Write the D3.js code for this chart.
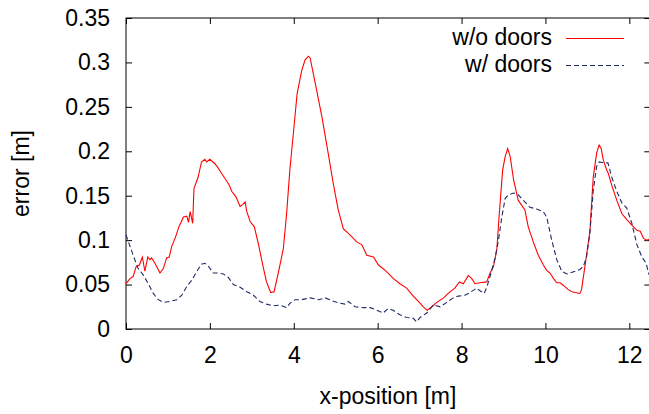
<!DOCTYPE html>
<html>
<head>
<meta charset="utf-8">
<script src="https://cdn.jsdelivr.net/npm/d3@7"></script>
<style>
  body { margin: 0; background: #fff; }
  text { font-family: "Liberation Sans", Arial, sans-serif; }
</style>
</head>
<body>
<div id="chart"></div>
<script>
// x positions [m] and error [m]
const noDoorsX = [0.00, 0.10, 0.17, 0.24, 0.32, 0.39, 0.45, 0.52, 0.57, 0.61, 0.69, 0.81, 0.89, 0.97, 1.03,
  1.09, 1.17, 1.27, 1.37, 1.45, 1.49, 1.53, 1.59, 1.62, 1.72, 1.80, 1.88, 1.92, 2.00, 2.12, 2.20, 2.28,
  2.38, 2.46, 2.52, 2.62, 2.72, 2.78, 2.84, 2.88, 2.96, 3.06, 3.16, 3.27, 3.35, 3.45, 3.53, 3.63, 3.75,
  3.83, 3.87, 3.91, 3.99, 4.08, 4.19, 4.27, 4.35, 4.39, 4.51, 4.67, 4.82, 4.94, 5.06, 5.18, 5.34, 5.50,
  5.62, 5.74, 5.90, 6.02, 6.18, 6.37, 6.53, 6.69, 6.85, 7.01, 7.09, 7.18, 7.29, 7.41, 7.57, 7.73, 7.84,
  7.95, 8.04, 8.16, 8.24, 8.32, 8.44, 8.60, 8.68, 8.76, 8.84, 8.90, 8.98, 9.04, 9.10, 9.16, 9.24, 9.35,
  9.51, 9.59, 9.71, 9.83, 9.95, 10.03, 10.11, 10.19, 10.27, 10.35, 10.43, 10.55, 10.63, 10.71, 10.82,
  10.86, 10.94, 11.06, 11.14, 11.22, 11.28, 11.33, 11.38, 11.46, 11.50, 11.58, 11.70, 11.82, 11.94,
  12.06, 12.18, 12.26, 12.34, 12.42, 12.47];
const noDoorsErr = [0.051, 0.057, 0.059, 0.070, 0.072, 0.081, 0.065, 0.081, 0.078, 0.080, 0.074, 0.063,
  0.068, 0.080, 0.081, 0.093, 0.102, 0.116, 0.126, 0.127, 0.120, 0.132, 0.119, 0.158, 0.171, 0.188, 0.191,
  0.188, 0.191, 0.186, 0.181, 0.175, 0.168, 0.162, 0.155, 0.149, 0.138, 0.140, 0.143, 0.132, 0.121, 0.115,
  0.095, 0.070, 0.053, 0.041, 0.042, 0.063, 0.090, 0.130, 0.156, 0.181, 0.220, 0.265, 0.291, 0.303, 0.307,
  0.305, 0.277, 0.239, 0.198, 0.164, 0.134, 0.113, 0.106, 0.098, 0.095, 0.083, 0.081, 0.072, 0.066, 0.057,
  0.051, 0.046, 0.037, 0.029, 0.025, 0.021, 0.025, 0.030, 0.035, 0.042, 0.046, 0.053, 0.051, 0.060, 0.057,
  0.051, 0.052, 0.053, 0.063, 0.070, 0.089, 0.130, 0.179, 0.194, 0.203, 0.194, 0.168, 0.145, 0.134, 0.115,
  0.098, 0.083, 0.072, 0.066, 0.063, 0.057, 0.052, 0.052, 0.049, 0.044, 0.042, 0.041, 0.040, 0.044, 0.070,
  0.110, 0.171, 0.198, 0.207, 0.203, 0.190, 0.179, 0.175, 0.162, 0.145, 0.130, 0.123, 0.117, 0.111, 0.110,
  0.102, 0.100, 0.101];

const doorsX = [0.00, 0.06, 0.17, 0.29, 0.41, 0.53, 0.65, 0.77, 0.89, 1.05, 1.21, 1.33, 1.45, 1.57, 1.69,
  1.80, 1.88, 1.96, 2.08, 2.20, 2.32, 2.44, 2.56, 2.72, 2.88, 3.04, 3.19, 3.35, 3.51, 3.67, 3.83, 3.91,
  4.03, 4.19, 4.39, 4.59, 4.75, 4.90, 5.10, 5.22, 5.30, 5.46, 5.66, 5.82, 5.94, 6.13, 6.25, 6.37, 6.53,
  6.69, 6.85, 6.93, 7.01, 7.17, 7.33, 7.49, 7.65, 7.80, 7.92, 8.08, 8.20, 8.36, 8.44, 8.54, 8.61, 8.72,
  8.80, 8.88, 8.96, 9.04, 9.12, 9.24, 9.35, 9.47, 9.63, 9.79, 9.95, 10.03, 10.15, 10.27, 10.39, 10.51,
  10.71, 10.82, 10.90, 10.98, 11.06, 11.14, 11.22, 11.28, 11.38, 11.49, 11.58, 11.70, 11.82, 11.94,
  12.06, 12.18, 12.30, 12.40, 12.47];
const doorsErr = [0.106, 0.098, 0.083, 0.068, 0.061, 0.051, 0.040, 0.033, 0.030, 0.031, 0.033, 0.038,
  0.048, 0.055, 0.065, 0.073, 0.074, 0.071, 0.063, 0.063, 0.062, 0.058, 0.050, 0.047, 0.042, 0.038, 0.031,
  0.028, 0.026, 0.027, 0.024, 0.029, 0.033, 0.033, 0.035, 0.033, 0.035, 0.032, 0.029, 0.028, 0.031, 0.025,
  0.024, 0.024, 0.022, 0.018, 0.023, 0.021, 0.016, 0.013, 0.012, 0.008, 0.013, 0.018, 0.027, 0.025, 0.030,
  0.035, 0.037, 0.038, 0.041, 0.046, 0.043, 0.040, 0.048, 0.066, 0.080, 0.100, 0.126, 0.147, 0.151, 0.153,
  0.151, 0.145, 0.137, 0.135, 0.132, 0.126, 0.100, 0.078, 0.065, 0.062, 0.065, 0.067, 0.070, 0.081, 0.108,
  0.156, 0.183, 0.188, 0.187, 0.187, 0.171, 0.155, 0.142, 0.136, 0.119, 0.095, 0.081, 0.074, 0.061];

const xTicks = [0, 2, 4, 6, 8, 10, 12];
const yTicks = [0, 0.05, 0.1, 0.15, 0.2, 0.25, 0.3, 0.35];
const seriesNames = ["w/o doors", "w/ doors"];

const W = 649, H = 414;
const margin = { top: 18, left: 126 };
const width = 524.3, height = 311;

const svg = d3.select("#chart").append("svg")
  .attr("width", W).attr("height", H);

const g = svg.append("g")
  .attr("transform", `translate(${margin.left},${margin.top})`);

const x = d3.scaleLinear().domain([0, 12.5]).range([0, width]);
const y = d3.scaleLinear().domain([0, 0.35]).range([height, 0]);

// axes, gnuplot style: ticks inside on all four sides
const fmt = d => String(+d.toFixed(2));
g.append("g").attr("transform", `translate(0,${height})`)
  .call(d3.axisBottom(x).tickValues(xTicks).tickSize(-6).tickPadding(18).tickFormat(d3.format("d")));
g.append("g")
  .call(d3.axisTop(x).tickValues(xTicks).tickSize(-6).tickFormat(""));
g.append("g")
  .call(d3.axisLeft(y).tickValues(yTicks).tickSize(-6).tickPadding(16).tickFormat(fmt));
g.append("g").attr("transform", `translate(${width},0)`)
  .call(d3.axisRight(y).tickValues(yTicks).tickSize(-6).tickFormat(""));

g.selectAll(".domain").remove();
g.selectAll(".tick line").attr("stroke", "#000");
g.selectAll(".tick text")
  .attr("fill", "#000")
  .style("font-size", "23px")
  .style("font-family", "'Liberation Sans', Arial, sans-serif");

g.append("rect")
  .attr("width", width).attr("height", height)
  .attr("fill", "none").attr("stroke", "#000").attr("stroke-width", 1);

const line = d3.line()
  .x(d => x(d[0]))
  .y(d => y(d[1]));

const series = [
  { name: seriesNames[0], pts: d3.zip(noDoorsX, noDoorsErr), color: "#ff0000", dash: null },
  { name: seriesNames[1], pts: d3.zip(doorsX, doorsErr), color: "#1f2a66", dash: "5,3" }
];

series.forEach(s => {
  g.append("path")
    .datum(s.pts)
    .attr("fill", "none")
    .attr("stroke", s.color)
    .attr("stroke-width", 1.1)
    .attr("stroke-dasharray", s.dash)
    .attr("d", line);
});

// legend, top right
const legend = svg.append("g");
series.forEach((s, i) => {
  const ly = 38.5 + i * 27;
  legend.append("text")
    .attr("x", 552).attr("y", ly + 6)
    .attr("text-anchor", "end")
    .style("font-size", "23px")
    .text(s.name);
  legend.append("line")
    .attr("x1", 566).attr("x2", 624)
    .attr("y1", ly).attr("y2", ly)
    .attr("stroke", s.color)
    .attr("stroke-width", 1.1)
    .attr("stroke-dasharray", s.dash);
});

// axis titles
svg.append("text")
  .attr("x", margin.left + 262).attr("y", 404)
  .attr("text-anchor", "middle")
  .style("font-size", "23px")
  .text("x-position [m]");

svg.append("text")
  .attr("transform", `translate(29,${margin.top + height / 2}) rotate(-90)`)
  .attr("text-anchor", "middle")
  .style("font-size", "23px")
  .text("error [m]");
</script>
</body>
</html>
